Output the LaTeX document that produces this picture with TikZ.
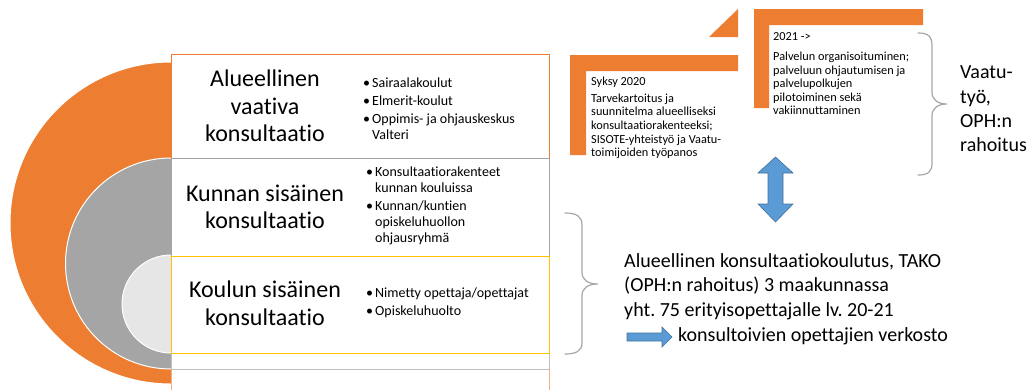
\documentclass[tikz,border=0pt]{standalone}
\usepackage{fontspec}
\setmainfont{Carlito}[Ligatures=NoCommon]
\frenchspacing
\definecolor{orangeA}{HTML}{ED7D31}
\definecolor{grayA}{HTML}{A5A5A5}
\definecolor{lightA}{HTML}{E6E6E6}
\definecolor{goldA}{HTML}{FFC000}
\definecolor{peachA}{HTML}{F4B183}
\definecolor{grayB}{HTML}{BFBFBF}
\definecolor{blueA}{HTML}{5B9BD5}
\definecolor{blueB}{HTML}{41719C}
\definecolor{braceA}{HTML}{A6A6A6}
\newcommand\mybul{\makebox[9pt][l]{•}}
\newcommand\myind{\hspace*{9pt}}
\begin{document}
\begin{tikzpicture}[x=1pt,y=-1pt,
  big/.style={font=\fontsize{24}{27.5}\selectfont, align=center, inner sep=0pt},
  blist/.style={font=\fontsize{14}{16}\selectfont, align=left, inner sep=0pt, anchor=west},
  small/.style={font=\fontsize{12.3}{13.6}\selectfont, align=left, inner sep=0pt, anchor=west},
  mid/.style={font=\fontsize{20}{24.4}\selectfont, align=left, inner sep=0pt, anchor=west},
  band/.style={fill=white, line width=1pt},
  disc/.style={draw=white, line width=1pt},
  blockarrow/.style={fill=blueA, draw=blueB, line width=0.6pt},
  bracket/.style={draw=braceA, line width=1.2pt, line cap=round}
  ]
\useasboundingbox (0,0) rectangle (1030,389);

% nested circles
\fill[orangeA, disc] (171,223) circle[radius=161pt];
\fill[grayA, disc] (171,263.5) circle[radius=105.5pt];
\fill[lightA, disc] (171,304) circle[radius=49pt];

% bands
\draw[band, draw=peachA] (171,369) rectangle (549,395);
\draw[band, draw=grayB] (171,353) rectangle (549,369);
\draw[band, draw=orangeA] (171,54) rectangle (549,158);
\draw[band, draw=grayA] (171,158) rectangle (549,256);
\draw[band, draw=goldA] (171,256) rectangle (549,353);

% band texts
\node[big] (t1) at (265,106) {Alueellinen\\vaativa\\konsultaatio};
\node[blist] (b1) at (363,109) {\mybul Sairaalakoulut\\[2pt]\mybul Elmerit-koulut\\[2pt]\mybul Oppimis- ja ohjauskeskus\\\myind Valteri};
\node[big] (t2) at (265,207) {Kunnan sisäinen\\konsultaatio};
\node[blist] (b2) at (366,206) {\mybul Konsultaatiorakenteet\\\myind kunnan kouluissa\\[2pt]\mybul Kunnan/kuntien\\\myind opiskeluhuollon\\\myind ohjausryhmä};
\node[big] (t3) at (265,303) {Koulun sisäinen\\konsultaatio};
\node[blist] (b3) at (366,303) {\mybul Nimetty opettaja/opettajat\\[2pt]\mybul Opiskeluhuolto};

% step shapes
\fill[orangeA] (570,55) -- (738,55) -- (738,71) -- (586,71) -- (586,155) -- (570,155) -- cycle;
\fill[orangeA] (754,9) -- (923,9) -- (923,25) -- (769,25) -- (769,108) -- (754,108) -- cycle;
\fill[orangeA] (709,37) -- (738,9) -- (738,37) -- cycle;

\node[small] (s1) at (591,118) {Syksy 2020\\[3pt]Tarvekartoitus ja\\suunnitelma alueelliseksi\\konsultaatiorakenteeksi;\\SISOTE-yhteistyö ja Vaatu-\\toimijoiden työpanos};
\node[small] (s2) at (773,74) {2021 ->\\[6pt]Palvelun organisoituminen;\\palveluun ohjautumisen ja\\palvelupolkujen\\pilotoiminen sekä\\vakiinnuttaminen};

% right brace and text
\draw[bracket] (918,33) .. controls (928,33) and (932,36) .. (932,46) -- (932,92)
  .. controls (932,100) and (938,104) .. (947,104)
  .. controls (938,104) and (932,108) .. (932,116) -- (932,163)
  .. controls (932,172) and (928,175) .. (918,175);
\node[mid] (v) at (960,109) {Vaatu-\\työ,\\OPH:n\\rahoitus};

% double block arrow
\filldraw[blockarrow] (775.5,157) -- (793,173) -- (783,173) -- (783,204) -- (793,204) -- (775.5,222)
  -- (758,204) -- (768,204) -- (768,173) -- (758,173) -- cycle;

% lower brace and text
\draw[bracket] (565,213) .. controls (576,213) and (582,216) .. (582,225) -- (582,272)
  .. controls (582,280) and (588,284) .. (598,284)
  .. controls (588,284) and (582,288) .. (582,296) -- (582,343)
  .. controls (582,351) and (576,354) .. (565,354);
\node[mid] (tako) at (624,286.5) {Alueellinen konsultaatiokoulutus, TAKO\\(OPH:n rahoitus) 3 maakunnassa\\yht. 75 erityisopettajalle lv. 20-21};
\node[mid] (verk) at (678,336) {konsultoivien opettajien verkosto};
\filldraw[blockarrow] (627,333) -- (662,333) -- (662,327) -- (672,337) -- (662,347) -- (662,341) -- (627,341) -- cycle;
\end{tikzpicture}
\end{document}
